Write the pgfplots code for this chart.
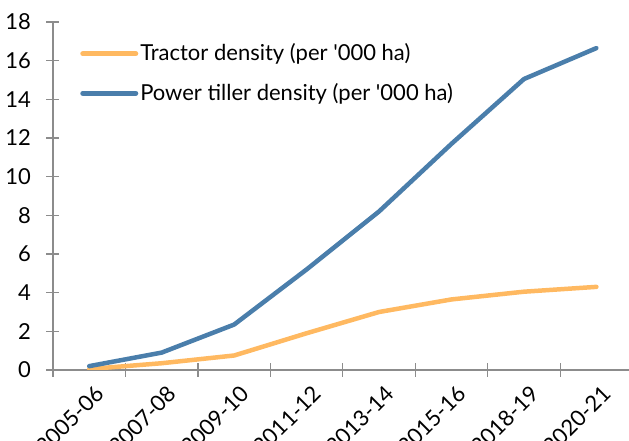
\documentclass[border=0pt]{standalone}
\usepackage{pgfplots}
\pgfplotsset{compat=1.18}
\usepackage{fontspec}
\setmainfont{Lato}[Ligatures=TeXOff]
\definecolor{tractor}{HTML}{FFB961}
\definecolor{tiller}{HTML}{4A7EAB}
\definecolor{axgray}{HTML}{8C8C8C}
\begin{document}
\fontsize{22}{26}\selectfont
\begin{tikzpicture}
\begin{axis}[
 at={(0,0)}, anchor=south west,
 scale only axis, width=576pt, height=348pt,
 xmin=-0.5, xmax=7.45, ymin=0, ymax=18,
 axis lines=left,
 axis line style={-, axgray, line width=1.3pt},
 tick style={axgray, line width=1.3pt},
 tick align=center, major tick length=13pt, minor tick length=13pt,
 xtick={0,...,7},
 major x tick style={draw=none},
 minor xtick={-0.5,0.5,...,6.5},
 xticklabels={2005-06,2007-08,2009-10,2011-12,2013-14,2015-16,2018-19,2020-21},
 xticklabel style={xshift=5pt, yshift=3pt, rotate=45, anchor=north east, font=\fontsize{22}{26}\selectfont, text=black},
 ytick={0,2,...,18},
 yticklabel style={xshift=-8pt, font=\fontsize{22}{26}\selectfont, text=black},
 /pgf/number format/assume math mode=true,
 legend style={at={(rel axis cs:0.047,0.944)}, anchor=north west, draw=none, fill=none,
   font=\fontsize{22}{26}\selectfont, row sep=15pt, inner sep=0pt},
 legend cell align=left,
 legend image code/.code={\draw[#1, line width=5pt, line cap=round] (0pt,0pt) -- (53pt,0pt);},
]
\addplot[tractor, line width=4.5pt, line join=round, line cap=round] coordinates {
 (0,0.05) (1,0.35) (2,0.75) (3,1.9) (4,3.0) (5,3.65) (6,4.05) (7,4.3)};
\addlegendentry{Tractor density (per '000 ha)}
\addplot[tiller, line width=4.5pt, line join=round, line cap=round] coordinates {
 (0,0.2) (1,0.9) (2,2.35) (3,5.2) (4,8.2) (5,11.7) (6,15.05) (7,16.65)};
\addlegendentry{Power tiller density (per '000 ha)}
\end{axis}
\pgfresetboundingbox
\useasboundingbox (-53pt,-71pt) rectangle (576pt,370pt);
\end{tikzpicture}
\end{document}
